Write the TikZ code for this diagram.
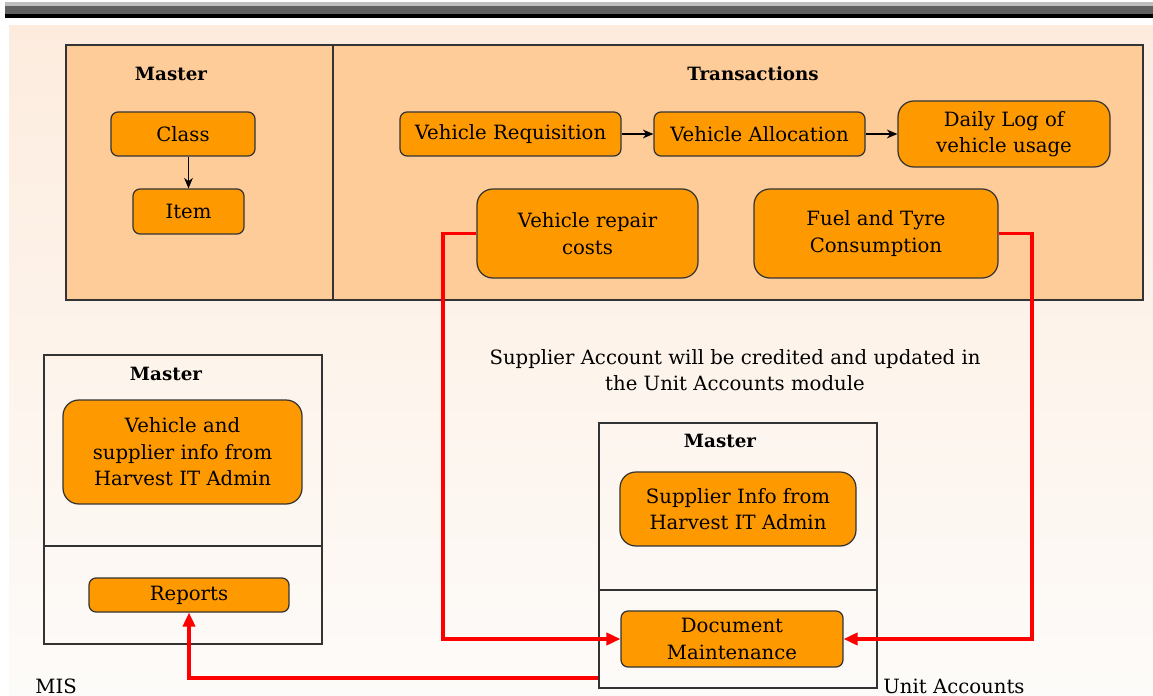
\documentclass[tikz,border=0pt]{standalone}
\usepackage{fontspec}
\setmainfont{DejaVu Serif}
\usepackage{tikz}
\usetikzlibrary{arrows.meta,backgrounds}
\definecolor{boxorange}{RGB}{255,153,0}
\definecolor{panelpeach}{RGB}{254,204,153}
\definecolor{pagetop}{RGB}{253,236,222}
\definecolor{pagebottom}{RGB}{253,251,249}
\newcommand{\linkcolor}{red}
\newcommand{\framecolor}{black!80}
\newcommand{\boxfont}{\fontsize{11.2}{15}\selectfont}
\newcommand{\headfont}{\fontsize{10.4}{13}\selectfont\bfseries}
\tikzset{
  procbox/.style={draw=\framecolor, line width=0.7pt, fill=boxorange, align=center,
    inner sep=1pt, font=\boxfont},
  smallbox/.style={procbox, rounded corners=4pt},
  bigbox/.style={procbox, rounded corners=9pt},
  framebox/.style={draw=\framecolor, line width=0.7pt, inner sep=0pt},
  headlabel/.style={font=\headfont},
  cornerlabel/.style={font=\boxfont, anchor=base west, inner sep=0pt},
  flow/.style={-{Stealth[length=6pt,width=5pt]}, line width=0.6pt},
  redflow/.style={\linkcolor, line width=1.8pt, -{Triangle[length=8pt,width=7pt]}}
}

\begin{document}
\begin{tikzpicture}[x=0.02cm, y=-0.02cm]
\useasboundingbox (0,0) rectangle (1153,696);
% page
\shade[top color=pagetop, bottom color=pagebottom] (9,26) rectangle (1153,696);
\fill[black!25] (5,2) rectangle (1153,6);
\fill[black!62] (5,6) rectangle (1153,14);
\fill[black] (5,14) rectangle (1153,18);
% panels
\node[framebox, fill=panelpeach, minimum width=21.54cm, minimum height=5.1cm] (trpanel) at (604.5,172.5) {};
\draw[\framecolor, line width=0.7pt] (trpanel.north -| 333,0) -- (trpanel.south -| 333,0);
\node[framebox, minimum width=5.56cm, minimum height=5.78cm] (misbox) at (183,499.5) {};
\draw[\framecolor, line width=0.7pt] (misbox.west |- 0,546) -- (misbox.east |- 0,546);
\node[framebox, minimum width=5.56cm, minimum height=5.3cm] (uabox) at (738,555.5) {};
\draw[\framecolor, line width=0.7pt] (uabox.west |- 0,590) -- (uabox.east |- 0,590);
% headings
\node[headlabel] (mhead1) at (171,74) {Master};
\node[headlabel] (thead) at (753,74) {Transactions};
\node[headlabel] (mhead2) at (166,374) {Master};
\node[headlabel] (mhead3) at (720,441) {Master};
% master
\node[smallbox, minimum width=2.88cm, minimum height=0.88cm] (class) at (183,134) {Class};
\node[smallbox, minimum width=2.22cm, minimum height=0.9cm] (item) at (188.5,211.5) {Item};
% transactions
\node[smallbox, minimum width=4.42cm, minimum height=0.88cm] (vreq) at (510.5,134) {Vehicle Requisition};
\node[smallbox, minimum width=4.22cm, minimum height=0.88cm] (valloc) at (759.5,134) {Vehicle Allocation};
\node[bigbox, minimum width=4.24cm, minimum height=1.32cm] (dlog) at (1004,134) {Daily Log of\\vehicle usage};
\node[bigbox, minimum width=4.42cm, minimum height=1.78cm] (repair) at (587.5,233.5) {Vehicle repair\\costs};
\node[bigbox, minimum width=4.88cm, minimum height=1.78cm] (fuel) at (876,233.5) {Fuel and Tyre\\Consumption};
% MIS
\node[bigbox, minimum width=4.78cm, minimum height=2.08cm] (vinfo) at (182.5,452) {Vehicle and\\supplier info from\\Harvest IT Admin};
\node[smallbox, minimum width=4.0cm, minimum height=0.68cm] (reports) at (189,595) {Reports};
% unit accounts
\node[bigbox, minimum width=4.72cm, minimum height=1.48cm] (sinfo) at (738,509) {Supplier Info from\\Harvest IT Admin};
\node[smallbox, minimum width=4.44cm, minimum height=1.12cm] (docmaint) at (732,639) {Document\\Maintenance};
% free texts
\node[font=\boxfont, align=center] (note) at (735,370) {Supplier Account will be credited and updated in\\the Unit Accounts module};
\node[cornerlabel] (mislabel) at (35,693) {MIS};
\node[cornerlabel] (ualabel) at (883,693) {Unit Accounts};
% flows
\draw[flow] (item.north |- class.south) -- (item.north);
\draw[flow] (vreq) -- (valloc);
\draw[flow] (valloc) -- (dlog);
\coordinate (lrail) at (443,400);
\coordinate (rrail) at (1032,400);
\coordinate (misrail) at (189,678);
\draw[redflow] (repair.west) -| (lrail) |- (docmaint.west);
\draw[redflow] (fuel.east) -| (rrail) |- (docmaint.east);
\draw[redflow] (uabox.west |- misrail) -- (misrail) -- (reports.south);
\end{tikzpicture}
\end{document}
